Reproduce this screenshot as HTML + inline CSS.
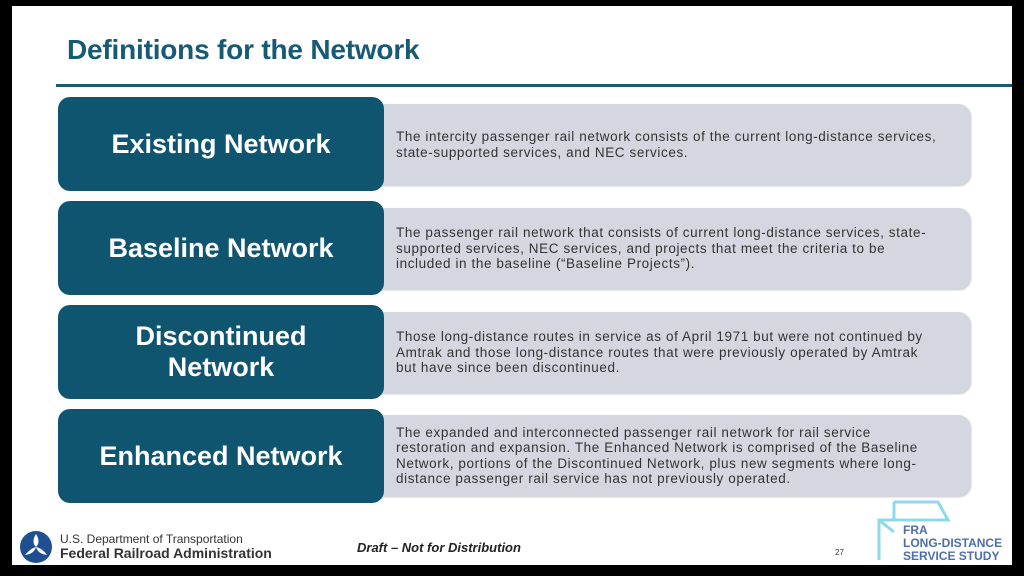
<!DOCTYPE html>
<html><head><meta charset="utf-8"><style>
*{margin:0;padding:0;box-sizing:border-box}
body{width:1024px;height:576px;background:#000;position:relative;overflow:hidden;font-family:"Liberation Sans",sans-serif}
.page{position:absolute;left:12px;top:6px;width:1000px;height:559px;background:#fff}
.title{position:absolute;left:67px;top:34px;font-size:28px;font-weight:bold;color:#175a74;letter-spacing:-0.2px}
.rule{position:absolute;left:56px;top:84px;width:956px;height:3px;background:#1b5a73}
.dk{position:absolute;left:58px;width:326px;height:94px;background:#0f5570;border-radius:12px;color:#fff;font-weight:bold;font-size:27px;display:flex;align-items:center;justify-content:center;text-align:center;line-height:31px;z-index:2}
.gr{position:absolute;left:378px;width:592px;height:81px;background:#d4d7df;border-radius:0 12px 12px 0;color:#333;font-size:13.5px;letter-spacing:0.6px;line-height:15.5px;padding-left:18px;display:flex;align-items:center;box-shadow:1px 1px 2px #c0c3cb}
.gr div{white-space:nowrap}
.foot{position:absolute;font-style:italic;font-weight:bold;font-size:13px;color:#222;left:357px;top:540px}
</style></head><body>
<div class="page"></div>
<div class="title">Definitions for the Network</div>
<div class="rule"></div>

<div class="dk" style="top:97px">Existing Network</div>
<div class="gr" style="top:104px"><div>The intercity passenger rail network consists of the current long-distance services,<br>state-supported services, and NEC services.</div></div>

<div class="dk" style="top:201px">Baseline Network</div>
<div class="gr" style="top:208px"><div>The passenger rail network that consists of current long-distance services, state-<br>supported services, NEC services, and projects that meet the criteria to be<br>included in the baseline (“Baseline Projects”).</div></div>

<div class="dk" style="top:305px">Discontinued<br>Network</div>
<div class="gr" style="top:312px"><div>Those long-distance routes in service as of April 1971 but were not continued by<br>Amtrak and those long-distance routes that were previously operated by Amtrak<br>but have since been discontinued.</div></div>

<div class="dk" style="top:409px">Enhanced Network</div>
<div class="gr" style="top:415px"><div>The expanded and interconnected passenger rail network for rail service<br>restoration and expansion. The Enhanced Network is comprised of the Baseline<br>Network, portions of the Discontinued Network, plus new segments where long-<br>distance passenger rail service has not previously operated.</div></div>

<svg style="position:absolute;left:19px;top:530px" width="34" height="34"><circle cx="17" cy="17" r="16" fill="#1d4f91"/><path d="M17 4 Q22 12 17 17 Q12 12 17 4Z M6 25 Q12 18 17 17 Q15 24 6 25Z M28 25 Q19 24 17 17 Q23 18 28 25Z" fill="#fff"/></svg>
<div style="position:absolute;left:60px;top:533px;font-size:12px;color:#333;line-height:13px">U.S. Department of Transportation</div>
<div style="position:absolute;left:60px;top:546px;font-size:14px;font-weight:bold;color:#333;line-height:15px">Federal Railroad Administration</div>
<div class="foot">Draft – Not for Distribution</div>
<div style="position:absolute;left:835px;top:548px;font-size:8px;color:#333">27</div>
<svg style="position:absolute;left:876px;top:500px" width="90" height="62"><path d="M18 2 H62 L72 20 H3 V60 M18 2 V20 M3 20 L18 32" fill="none" stroke="#8fd8e8" stroke-width="3"/></svg>
<div style="position:absolute;left:903px;top:524px;font-size:12px;color:#4b6fae;line-height:13px;font-weight:bold">FRA<br>LONG-DISTANCE<br>SERVICE STUDY</div>
</body></html>
